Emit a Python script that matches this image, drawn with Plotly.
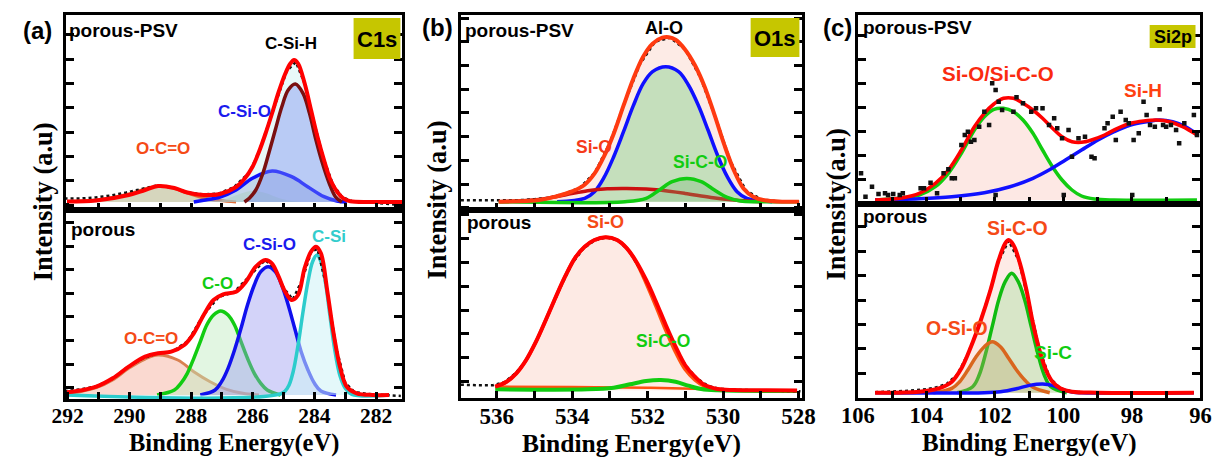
import plotly.graph_objects as go

# ================= DATA (binding energy in eV, intensity in a.u.) =================
# ---- (a) C1s, porous-PSV ----
A1_DATA_X = [292.1, 291.6, 291.1, 290.6, 290.1, 289.6, 289.1, 288.6, 288.1, 287.6, 287.1, 286.6, 286.1, 285.8,
             285.5, 285.2, 284.9, 284.6, 284.3, 284.0, 283.7, 283.4, 283.1, 282.8, 282.3, 281.8, 281.4, 281.15]
A1_DATA_Y = [3.5, 3.5, 4.5, 6.5, 9.5, 13, 16.5, 14.5, 9.5, 7.5, 8.5, 15, 30, 50,
             77, 106, 131, 140, 117, 78, 43, 17.5, 5, 1, 0, -1, -2.5, -4]
A1_ENV_X = [292.02, 291.07, 290.02, 289.49, 289.07, 288.54, 288.12, 287.59, 287.06, 286.54, 286.27, 286.01, 285.80,
            285.59, 285.38, 285.16, 284.95, 284.79, 284.66, 284.53, 284.32, 284.11, 283.90, 283.69, 283.48, 283.26,
            283.05, 282.84, 282.11, 281.16]
A1_ENV_Y = [0.5, 1.5, 7, 12, 16, 14, 9.5, 7, 8, 15, 23, 35, 50, 68, 88, 110, 128, 138, 142, 138.5, 119, 92, 65, 42,
            22, 10, 3.3, 0.7, 0, 0]
A1_OCO_X = [292.02, 291.07, 290.54, 290.02, 289.49, 289.07, 288.64, 288.12, 287.59, 287.06, 286.54]
A1_OCO_Y = [0.5, 2, 4.5, 8, 13, 16, 14.5, 9, 4, 1.5, 0]
A1_CO_X = [287.27, 286.85, 286.43, 286.01, 285.59, 285.16, 284.74, 284.42]
A1_CO_Y = [0, 3, 8, 11, 9, 4, 1, 0]
A1_CSIO_X = [287.91, 287.59, 287.06, 286.54, 286.01, 285.37, 284.74, 284.22, 283.69, 283.27, 282.95]
A1_CSIO_Y = [0, 1.7, 5, 12, 23.7, 31, 25.3, 15.3, 5.3, 1, 0]
A1_CSIH_X = [286.27, 286.11, 285.90, 285.69, 285.48, 285.27, 285.06, 284.85, 284.62, 284.37, 284.16, 283.95,
             283.74, 283.52, 283.32, 283.11]
A1_CSIH_Y = [0, 3.7, 12, 27, 48.7, 72, 95, 112, 118, 108.7, 88.7, 62, 38.7, 18.7, 5.3, 0]

# ---- (a) C1s, porous ----
A2_DATA_X = [292.1, 291.6, 291.1, 290.6, 290.1, 289.6, 289.1, 288.6, 288.1, 287.6, 287.1, 286.6, 286.1, 285.6,
             285.3, 285.0, 284.7, 284.4, 284.1, 283.9, 283.6, 283.3, 283.0, 282.7, 282.3, 281.9, 281.5, 281.2]
A2_DATA_Y = [4, 5.5, 8.5, 15, 27, 36, 41.5, 43.5, 54, 80, 98, 103, 119, 135,
             127, 107, 95.5, 115, 143.5, 146, 107, 48, 12, 3, 1, 0.5, 0, -1]
A2_ENV_X = [292.02, 291.49, 291.07, 290.54, 290.02, 289.49, 289.07, 288.64, 288.22, 287.91, 287.59, 287.27, 286.96,
            286.54, 286.22, 285.90, 285.59, 285.38, 285.16, 284.95, 284.74, 284.53, 284.32, 284.11, 283.95, 283.79,
            283.58, 283.37, 283.16, 282.95, 282.63, 282.11, 281.58]
A2_ENV_Y = [2.7, 5, 8.3, 16.7, 28.3, 38.3, 41.7, 43.3, 50, 61.7, 80, 95, 100.7, 103.3, 113.3, 128.3, 135, 131.7,
            118.3, 103.3, 95, 100, 126.7, 143.3, 148.3, 141.7, 103.3, 60, 26.7, 8.3, 1.7, 0, 0]
A2_OCO_X = [292.02, 291.60, 291.07, 290.54, 290.02, 289.49, 289.07, 288.43, 287.91, 287.38, 286.85, 286.32, 285.80]
A2_OCO_Y = [1.7, 3.3, 7.3, 15, 26.7, 36, 40, 35, 23.3, 13.3, 5.7, 1.7, 0]
A2_CO_X = [289.10, 288.54, 288.33, 288.12, 287.91, 287.70, 287.49, 287.27, 287.04, 286.80, 286.59, 286.38, 286.17,
           285.95, 285.74, 285.53, 285.10]
A2_CO_Y = [0, 5, 11.7, 21.7, 36.7, 53.3, 70, 80, 84, 80, 70, 53.3, 36.7, 21.7, 11.7, 5, 0]
A2_CSIO_X = [287.70, 287.22, 287.01, 286.80, 286.59, 286.38, 286.17, 285.95, 285.74, 285.50, 285.27, 285.06, 284.85,
             284.64, 284.43, 284.21, 284.00, 283.79, 283.30]
A2_CSIO_Y = [0, 5, 13.3, 26.7, 45, 66.7, 90, 110, 123.3, 128.3, 123.3, 110, 90, 66.7, 43.3, 25, 11.7, 4, 0]
A2_CSI_X = [292.02, 285.06, 284.85, 284.69, 284.53, 284.37, 284.21, 284.06, 283.92, 283.77, 283.63, 283.50, 283.35,
            283.18, 283.00, 282.79, 281.58]
A2_CSI_Y = [0, 1.7, 8.3, 23.3, 50, 83.3, 113.3, 133.3, 140, 131.7, 110, 80, 46.7, 20, 6.7, 0.7, 0]

# ---- (b) O1s, porous-PSV ----
B1_DATA_X = [536.95, 536.7, 536.4, 536.1, 535.8, 535.4, 535.0, 534.6, 534.2, 533.8, 533.4, 533.0, 532.6, 532.2,
             531.8, 531.4, 531.0, 530.6, 530.2, 529.8, 529.4, 529.0, 528.6, 528.2, 527.95]
B1_DATA_Y = [1.5, 1.5, 1.3, 1.3, 1.2, 1.5, 2.5, 4, 8, 14, 29, 59, 100, 138, 160, 164, 152, 124, 84, 40, 11.5,
             2.5, 0.5, 0, 0]
B1_ENV_X = [535.95, 534.88, 534.45, 534.02, 533.67, 533.41, 533.16, 532.90, 532.64, 532.38, 532.12, 531.87, 531.61,
            531.44, 531.26, 531.01, 530.75, 530.49, 530.23, 529.97, 529.71, 529.46, 529.20, 528.94, 528.42, 527.99]
B1_ENV_Y = [0, 1.7, 5, 10, 17, 28, 45, 68, 96, 123, 145, 158, 164, 164.5, 162, 152.3, 136.7, 115, 87, 57, 31,
            13.3, 5, 1.7, 0, 0]
B1_ALO_X = [534.40, 533.67, 533.41, 533.16, 532.90, 532.64, 532.38, 532.12, 531.87, 531.52, 531.18, 530.92, 530.66,
            530.40, 530.15, 529.89, 529.63, 529.37, 528.70]
B1_ALO_Y = [0, 3.3, 10, 24, 45, 70, 96, 118, 130, 135, 130, 116.7, 96.7, 71.7, 46.7, 25, 10, 3.3, 0]
B1_SIO_X = [535.91, 534.88, 534.19, 533.59, 533.07, 532.55, 532.04, 531.69, 531.01, 530.32, 529.71, 529.03]
B1_SIO_Y = [0, 2.3, 6.7, 11, 13, 13.3, 12.7, 11.7, 8.3, 4.3, 1.7, 0]
B1_SICO_X = [535.95, 532.60, 532.04, 531.69, 531.35, 530.96, 530.58, 530.23, 529.89, 529.54, 529.10, 527.99]
B1_SICO_Y = [0, 0, 3.3, 11.7, 20, 23.3, 20, 11.7, 4.3, 0.7, 0, 0]

# ---- (b) O1s, porous ----
B2_DATA_X = [536.95, 536.7, 536.4, 536.1, 535.8, 535.5, 535.2, 534.9, 534.6, 534.3, 534.0, 533.7, 533.4, 533.1,
             532.8, 532.5, 532.2, 531.9, 531.6, 531.3, 531.0, 530.7, 530.4, 530.1, 529.7, 529.2, 528.7, 528.2, 527.95]
B2_DATA_Y = [5.5, 5, 5, 5, 8, 17, 31, 53, 79, 104, 127, 142, 150, 153, 150, 140, 121, 99, 72, 46, 25, 12, 4.5,
             1.5, 0.5, 0, -0.5, -0.7, -1]
B2_ENV_X = [536.04, 535.74, 535.48, 535.22, 534.96, 534.70, 534.45, 534.19, 533.93, 533.67, 533.41, 533.11, 532.81,
            532.55, 532.30, 532.04, 531.78, 531.52, 531.26, 531.01, 530.75, 530.49, 530.15, 529.71, 528.85, 528.04]
B2_ENV_Y = [3.7, 8.6, 17, 30.3, 48.6, 70.3, 92, 113.6, 132, 143.6, 150.3, 153, 150.3, 142, 128.6, 110.3, 88.6, 65.3,
            43.6, 25.3, 13.6, 5.3, 1.3, 0.3, 0, -0.3]
B2_SIO_X = [536.04, 535.74, 535.48, 535.22, 534.96, 534.70, 534.45, 534.19, 533.93, 533.67, 533.41, 533.11, 532.81,
            532.55, 532.30, 532.04, 531.78, 531.52, 531.26, 531.01, 530.75, 530.49, 530.15, 529.71]
B2_SIO_Y = [3.7, 8.6, 17, 30.3, 48.6, 70.3, 92, 113.6, 132, 143.6, 150.3, 153, 150.3, 142, 128, 107, 84, 60, 38,
            21, 10.5, 4, 1, 0.3]
B2_BG_X = [536.04, 534.0, 532.0, 530.5, 529.7]
B2_BG_Y = [3.7, 3.3, 2.6, 1.4, 0.3]
B2_SICO_X = [536.04, 533.59, 532.90, 532.47, 532.04, 531.65, 531.26, 530.92, 530.58, 530.15, 528.04]
B2_SICO_Y = [1, 1, 2.6, 6, 9.3, 10.3, 8.6, 4.6, 1.3, 0, -0.7]

# ---- (c) Si2p, porous-PSV ----
C1_PTS_X = [105.91, 105.78, 105.59, 105.40, 105.21, 105.12, 104.97, 104.78, 104.69, 104.17, 104.07, 103.88, 103.69,
            103.50, 103.36, 103.26, 103.17, 102.98, 102.88, 102.79, 102.70, 102.60, 102.46, 102.31, 102.17, 102.08,
            101.98, 101.98, 101.89, 101.79, 101.46, 101.37, 101.18, 100.94, 100.80, 100.61, 100.42, 100.27, 100.18,
            100.04, 99.99, 99.85, 99.75, 99.56, 99.37, 99.18, 99.09, 98.80, 98.71, 98.56, 98.47, 98.33, 98.18, 98.09,
            97.99, 97.95, 97.80, 97.66, 97.57, 97.47, 97.33, 97.19, 97.09, 97.00, 96.86, 96.71, 96.62, 96.47, 96.19,
            96.10]
C1_PTS_Y = [26.7, 3.3, 13.3, 6, 6.7, 5, 6, 5, 6.7, 11.7, 11.7, 17.3, 6.7, 26.7, 30.7, 21.7, 21.7, 55, 65, 68.3,
            58.3, 60, 73.3, 88.3, 75, 116.7, 110, 5, 98.3, 90, 88.3, 102.7, 96.7, 88.3, 91.7, 91.7, 75, 81.7, 71.7,
            61.7, 5, 70, 43.3, 61.7, 63.3, 43.3, 41.7, 71.7, 76.7, 83.3, 60, 88.3, 80, 76.7, 5, 60, 66.7, 98.3, 85,
            75, 73.3, 90.7, 75, 73.3, 75, 70, 56.7, 76.7, 85, 65]
C1_ENV_X = [105.50, 104.69, 104.21, 103.74, 103.36, 102.98, 102.60, 102.31, 102.03, 101.75, 101.46, 101.18, 100.89,
            100.61, 100.32, 100.04, 99.75, 99.47, 99.18, 98.80, 98.42, 98.04, 97.66, 97.28, 96.90, 96.52, 96.10]
C1_ENV_Y = [0, 2.3, 6.7, 16.7, 30, 50, 73.3, 86.7, 96, 101.7, 101.7, 96.7, 90, 81.7, 71.7, 63.3, 58.3, 57.7, 60,
            65, 71.7, 76.7, 79, 80, 78.3, 73.3, 65]
C1_SIO_X = [105.50, 104.21, 103.74, 103.36, 102.98, 102.60, 102.31, 102.03, 101.75, 101.46, 101.18, 100.89, 100.61,
            100.32, 100.04, 99.75, 99.47, 99.09, 98.52, 96.10]
C1_SIO_Y = [0, 5, 13.3, 26.7, 46.7, 70, 83.3, 90.7, 91.7, 88.3, 80, 66.7, 50, 33.3, 20, 10, 4, 1, 0, 0]
C1_SIH_X = [105.50, 104.21, 103.26, 102.31, 101.56, 100.89, 100.42, 99.94, 99.47, 98.99, 98.52, 98.04, 97.57,
            97.19, 96.81, 96.43, 96.10]
C1_SIH_Y = [0, 1.3, 3.3, 7.3, 13.3, 21.7, 30, 40, 50, 60, 68.3, 75, 78.3, 80, 78.3, 73.3, 66]

# ---- (c) Si2p, porous ----
C2_DATA_X = [105.5, 105.0, 104.5, 104.0, 103.7, 103.4, 103.1, 102.8, 102.5, 102.2, 101.9, 101.6, 101.3, 101.0,
             100.7, 100.4, 100.1, 99.8, 99.5, 99.0, 98.0, 97.0, 96.2]
C2_DATA_Y = [0.5, 1, 2, 3.5, 5.5, 9, 18, 38, 64, 95, 131, 152, 132, 89, 43, 15, 4.5, 1.5, 0.5, 0, 0, 0, 0]
C2_ENV_X = [105.50, 104.21, 103.64, 103.26, 102.98, 102.70, 102.41, 102.13, 101.89, 101.70, 101.60, 101.46, 101.27,
            101.08, 100.89, 100.70, 100.51, 100.32, 100.08, 99.75, 98.99, 96.19]
C2_ENV_Y = [0, 1, 4.3, 11, 24.3, 46, 72.7, 102.7, 132.7, 149.3, 152.7, 147.7, 129.3, 102.7, 69.4, 42.7, 22.7, 11,
            4.3, 1, 0, 0]
C2_SICO_X = [103.10, 102.65, 102.46, 102.27, 102.08, 101.89, 101.70, 101.51, 101.32, 101.13, 100.94, 100.75, 100.56,
             100.37, 99.90]
C2_SICO_Y = [0, 6, 17.7, 39.4, 66, 92.7, 111, 119.4, 111, 92.7, 66, 39.4, 17.7, 6, 0]
C2_OSIO_X = [103.80, 103.26, 103.03, 102.79, 102.55, 102.31, 102.08, 101.84, 101.60, 101.37, 101.13, 100.89, 100.40]
C2_OSIO_Y = [0, 4.3, 11, 22.7, 36, 46, 51, 46, 34.4, 22.7, 12.7, 5.4, 0]
C2_SIC_X = [105.50, 102.31, 101.84, 101.37, 100.99, 100.61, 100.32, 100.04, 99.75, 99.47, 96.19]
C2_SIC_Y = [0, 0, 1, 4, 7.3, 8.7, 7.3, 3.3, 0.7, 0, 0]

# ---- texts ----
PANEL_TAGS = ["(a)", "(b)", "(c)"]
CORE_LEVELS = ["C1s", "O1s", "Si2p"]
SAMPLES = ["porous-PSV", "porous"]
X_TITLE = "Binding Energy(eV)"
Y_TITLES = ["Intensity (a.u)", "Intensity (a.u)", "Intensity(a.u)"]
X_TICK0 = [292, 536, 106]

# ================= FIGURE =================
W, H = 1229, 457
def px(x): return x / W
def py(y): return 1 - y / H

fig = go.Figure()

def add(n, x, y, color, width=3.5, fill=None, fillcolor=None, mode="lines", shape="spline", dash=None):
    ax = "" if n == 1 else str(n)
    line = dict(color=color, width=width, shape=shape)
    if dash:
        line["dash"] = dash
    kw = dict(x=x, y=y, mode=mode, line=line, xaxis="x" + ax, yaxis="y" + ax,
              showlegend=False, hoverinfo="skip")
    if fill:
        kw["fill"] = fill
        kw["fillcolor"] = fillcolor
    fig.add_trace(go.Scatter(**kw))

RED = "#ff0000"
# (a) top
add(1, A1_ENV_X, A1_ENV_Y, "rgba(0,0,0,0)", 0, "tozeroy", "rgba(214,244,244,0.55)")
add(1, A1_OCO_X, A1_OCO_Y, "#e2703a", 3, "tozeroy", "rgba(196,180,130,0.5)")
add(1, A1_CO_X, A1_CO_Y, "rgba(0,0,0,0)", 0, "tozeroy", "rgba(190,236,180,0.55)")
add(1, A1_CSIO_X, A1_CSIO_Y, "#1010ff", 3.5, "tozeroy", "rgba(150,170,215,0.45)")
add(1, A1_CSIH_X, A1_CSIH_Y, "#7a1010", 3.5, "tozeroy", "rgba(120,140,240,0.42)")
add(1, A1_DATA_X, A1_DATA_Y, "#111111", 2.5, shape="linear", dash="dot")
add(1, A1_ENV_X, A1_ENV_Y, RED, 4)
# (a) bottom
add(2, A2_OCO_X, A2_OCO_Y, "#d98050", 3, "tozeroy", "rgba(245,170,150,0.45)")
add(2, A2_CO_X, A2_CO_Y, "#11cc11", 3.5, "tozeroy", "rgba(190,236,190,0.45)")
add(2, A2_CSIO_X, A2_CSIO_Y, "#1010ee", 3.5, "tozeroy", "rgba(150,150,240,0.42)")
add(2, A2_CSI_X, A2_CSI_Y, "#2ccccc", 3.5, "tozeroy", "rgba(205,242,246,0.55)")
add(2, A2_DATA_X, A2_DATA_Y, "#111111", 2.5, shape="linear", dash="dot")
add(2, A2_ENV_X, A2_ENV_Y, RED, 4)
# (b) top
add(3, B1_ENV_X, B1_ENV_Y, "rgba(0,0,0,0)", 0, "tozeroy", "rgba(252,222,214,0.6)")
add(3, B1_ALO_X, B1_ALO_Y, "#1010ff", 3.5, "tozeroy", "rgba(160,215,160,0.6)")
add(3, B1_SIO_X, B1_SIO_Y, "#cc1010", 3.5)
add(3, B1_SICO_X, B1_SICO_Y, "#11cc11", 3.5, "tozeroy", "rgba(110,180,110,0.3)")
add(3, B1_DATA_X, B1_DATA_Y, "#111111", 2.5, shape="linear", dash="dot")
add(3, B1_ENV_X, B1_ENV_Y, "#ff3a10", 4)
# (b) bottom
add(4, B2_SIO_X, B2_SIO_Y, "#ff5010", 3.5, "tozeroy", "rgba(252,222,214,0.65)")
add(4, B2_BG_X, B2_BG_Y, "#ff5010", 2.5)
add(4, B2_SICO_X, B2_SICO_Y, "#11cc11", 4)
add(4, B2_DATA_X, B2_DATA_Y, "#111111", 2.5, shape="linear", dash="dot")
add(4, B2_ENV_X, B2_ENV_Y, RED, 4)
# (c) top
add(5, C1_SIO_X, C1_SIO_Y, "#11cc11", 3.5, "tozeroy", "rgba(250,205,195,0.45)")
add(5, C1_SIH_X, C1_SIH_Y, "#1010ff", 3.5)
add(5, C1_ENV_X, C1_ENV_Y, RED, 3.5)
fig.add_trace(go.Scatter(x=C1_PTS_X, y=C1_PTS_Y, mode="markers", xaxis="x5", yaxis="y5",
                         marker=dict(symbol="square", size=4.5, color="#111111"),
                         showlegend=False, hoverinfo="skip"))
# (c) bottom
add(6, C2_ENV_X, C2_ENV_Y, "rgba(0,0,0,0)", 0, "tozeroy", "rgba(252,222,214,0.6)")
add(6, C2_SICO_X, C2_SICO_Y, "#11bb11", 3.5, "tozeroy", "rgba(180,225,170,0.5)")
add(6, C2_OSIO_X, C2_OSIO_Y, "#d9661e", 3.5, "tozeroy", "rgba(190,165,110,0.35)")
add(6, C2_SIC_X, C2_SIC_Y, "#1010ff", 3.5)
add(6, C2_DATA_X, C2_DATA_Y, "#111111", 2.5, shape="linear", dash="dot")
add(6, C2_ENV_X, C2_ENV_Y, RED, 4)

# ---------- axes ----------
SERIF = "Liberation Serif, Times New Roman, serif"
SANS = "Liberation Sans, Arial, sans-serif"
cols = [(50, 395), (455, 805), (862, 1213)]
rows = [[(15, 210), (210, 399)], [(15, 210), (210, 398)], [(15, 204), (204, 398)]]
xr = [[292.06, 281.15], [536.95, 527.9], [106, 96]]
yr = [[[-8, 187], [-4, 185]], [[-8.3, 186.7], [-7.7, 180.3]], [[-4, 185], [-5.3, 188.7]]]
ytk = [[(-3, 24.3), (7.3, 23.6)], [(-6, 23.7), (8.6, 23.9)], [(-3, 23.9), (-5, 24.4)]]
tick_sz = [21.5, 23, 22.5]

layout = dict(width=W, height=H, margin=dict(l=0, r=0, t=0, b=0),
              paper_bgcolor="white", plot_bgcolor="white", showlegend=False)
n = 0
for c in range(3):
    for r in range(2):
        n += 1
        key = "" if n == 1 else str(n)
        x0, x1 = cols[c]
        ytop, ybot = rows[c][r]
        layout["xaxis" + key] = dict(
            domain=[px(x0), px(x1)], range=xr[c], anchor="y" + key,
            tick0=X_TICK0[c], dtick=2, ticks="inside", ticklen=7, tickwidth=2.5, tickcolor="black",
            minor=dict(dtick=1, ticks="inside", ticklen=7, tickwidth=2.5, tickcolor="black"),
            showline=True, linewidth=3, linecolor="black", mirror=True,
            showgrid=False, zeroline=False, showticklabels=(r == 1), ticklabelstandoff=-5,
            tickfont=dict(family=SERIF, size=tick_sz[c], color="black", weight="bold"))
        layout["yaxis" + key] = dict(
            domain=[py(ybot), py(ytop)], range=yr[c][r], anchor="x" + key,
            tick0=ytk[c][r][0], dtick=ytk[c][r][1], ticks="inside", ticklen=8, tickwidth=2.5,
            tickcolor="black", showline=True, linewidth=3, linecolor="black", mirror="ticks",
            showgrid=False, zeroline=False, showticklabels=False)
fig.update_layout(**layout)

# ---------- texts ----------
def note(text, x, y, size, color="black", family=SANS, anchor="center", angle=0):
    fig.add_annotation(text=text, x=px(x), y=py(y), xref="paper", yref="paper", showarrow=False,
                       xanchor=anchor, yanchor="middle", textangle=angle,
                       font=dict(family=family, size=size, color=color, weight="bold"))

for i, (xc, yc) in enumerate([(21, 30), (431, 28), (841, 28)]):
    note(PANEL_TAGS[i], xc, yc, 24)
# boxes
for i, (bx0, by0, bx1, by1, fs) in enumerate([(345, 18, 393, 59, 22), (752, 18, 802, 57, 22),
                                               (1161, 25, 1208, 48, 18)]):
    fig.add_shape(type="rect", xref="paper", yref="paper", x0=px(bx0), x1=px(bx1), y0=py(by1), y1=py(by0),
                  fillcolor="#c6c600", line=dict(width=0), layer="above")
    note(CORE_LEVELS[i], (bx0 + bx1) / 2, (by0 + by1) / 2 + 1, fs)
# sample names
for (xl, yl) in [(51, 31), (457, 30), (865, 28)]:
    note(SAMPLES[0], xl, yl, 19, anchor="left")
for (xl, yl) in [(53, 229), (459, 222), (865, 217)]:
    note(SAMPLES[1], xl, yl, 19, anchor="left")
# axis titles
for i, (x0, x1) in enumerate(cols):
    note(X_TITLE, (x0 + x1) / 2, 443, [24.5, 25.5, 25][i], family=SERIF)
for i, (xc, yc) in enumerate([(27, 202), (431, 200), (839, 205)]):
    note(Y_TITLES[i], xc, yc, 26.5, family=SERIF, angle=-90)

# peak labels
ORG = "#f54a16"
GRN = "#11cc11"
BLU = "#1a1aee"
note("C-Si-H", 281, 43, 17)
note("C-Si-O", 233, 111, 17, BLU)
note("O-C=O", 150, 149, 17, ORG)
note("O-C=O", 137, 338, 17, ORG)
note("C-O", 206, 283, 17, GRN)
note("C-Si-O", 259, 244, 17, BLU)
note("C-Si", 320, 236, 17, "#33cccc")
note("Al-O", 663, 28, 18)
note("Si-O", 591, 147, 17.5, "#f53a1a")
note("Si-C-O", 700, 162, 17.5, GRN)
note("Si-O", 603, 222, 18, "#f54a16")
note("Si-C-O", 662, 341, 17.5, GRN)
note("Si-O/Si-C-O", 1006, 73, 20.5, "#fa2a10")
note("Si-H", 1154, 90, 19, "#ff4010")
note("Si-C-O", 1026, 228, 19.5, ORG)
note("O-Si-O", 964, 328, 19.5, ORG)
note("Si-C", 1062, 352, 19, GRN)

fig.write_html("out.html")
